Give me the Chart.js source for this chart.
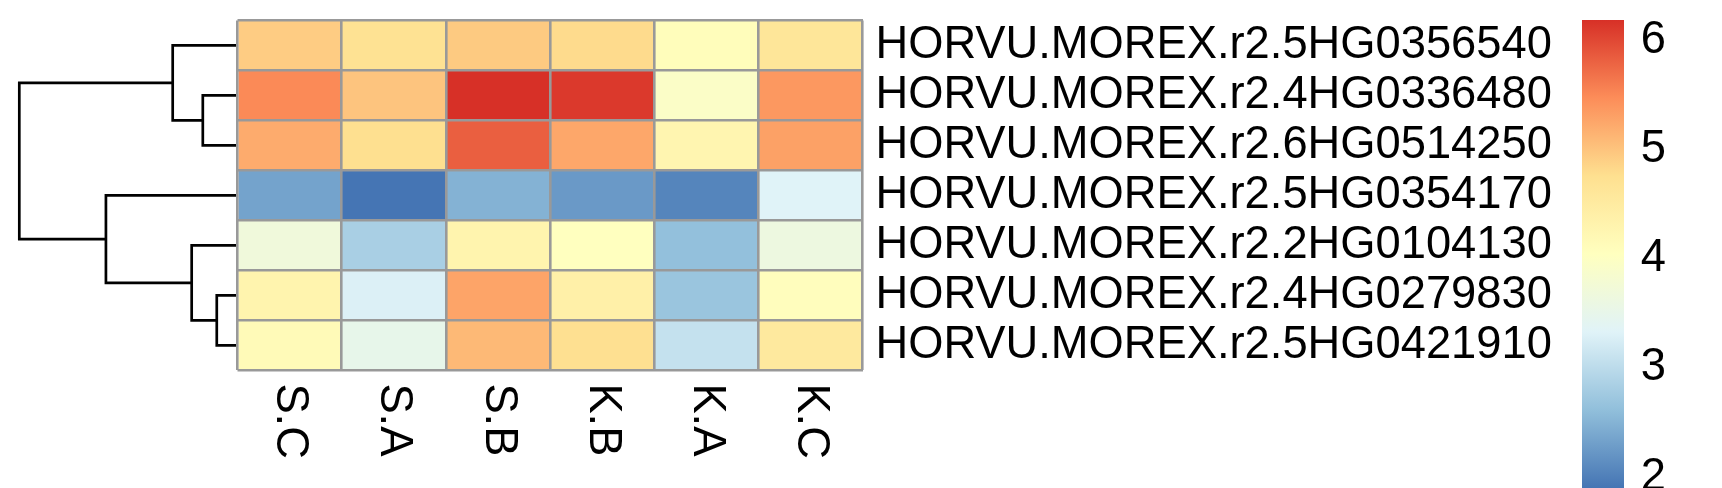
<!DOCTYPE html>
<html><head><meta charset="utf-8">
<script src="https://cdn.jsdelivr.net/npm/chart.js@4.4.1/dist/chart.umd.min.js"></script>
<style>
html,body{margin:0;padding:0;background:#fff;width:1722px;height:488px;overflow:hidden;}
canvas{position:absolute;top:0;}
</style></head><body>
<canvas id="dend" width="240" height="488" style="left:0"></canvas>
<canvas id="heat" width="1722" height="488" style="left:0"></canvas>
<canvas id="cbar" width="140" height="488" style="left:1582px"></canvas>
<script>
// ---------- data ----------
const rowLabels = [
  'HORVU.MOREX.r2.5HG0356540',
  'HORVU.MOREX.r2.4HG0336480',
  'HORVU.MOREX.r2.6HG0514250',
  'HORVU.MOREX.r2.5HG0354170',
  'HORVU.MOREX.r2.2HG0104130',
  'HORVU.MOREX.r2.4HG0279830',
  'HORVU.MOREX.r2.5HG0421910'
];
const colLabels = ['S.C', 'S.A', 'S.B', 'K.B', 'K.A', 'K.C'];
// values per column, in row order above
const valSC = [4.93, 5.50, 5.22, 2.34, 3.70, 4.30, 4.15];
const valSA = [4.72, 5.00, 4.76, 1.90, 2.83, 3.29, 3.50];
const valSB = [4.95, 6.19, 5.83, 2.49, 4.30, 5.28, 5.10];
const valKB = [4.80, 6.12, 5.25, 2.25, 4.05, 4.40, 4.75];
const valKA = [4.10, 3.95, 4.28, 2.05, 2.63, 2.70, 3.08];
const valKC = [4.62, 5.38, 5.30, 3.33, 3.63, 4.08, 4.55];
// row dendrogram (hclust style merges: negative = leaf position, positive = earlier merge)
const mergePairs = [[-6, -7], [-2, -3], [-5, 1], [-1, 2], [-4, 3], [4, 5]];
const mergeHeights = [0.095, 0.159, 0.210, 0.297, 0.603, 1.000];
// colour legend
const paletteColors = ['#4575B4', '#91BFDB', '#E0F3F8', '#FFFFBF', '#FEE090', '#FC8D59', '#D73027'];
const legendTicks = [2, 3, 4, 5, 6];

// ---------- helpers ----------
const colValues = [valSC, valSA, valSB, valKB, valKA, valKC];
const allVals = colValues.flat();
const vMin = Math.min(...allVals), vMax = Math.max(...allVals);
const FAMILY = "'Liberation Sans', Arial, Helvetica, sans-serif";
const FONT = {family: FAMILY, size: 45.3};

function hexToRgb(h) { return [1, 3, 5].map(i => parseInt(h.substr(i, 2), 16)); }
const palRgb = paletteColors.map(hexToRgb);
function rampColor(v) {
  let t = (v - vMin) / (vMax - vMin);
  t = Math.max(0, Math.min(1, t)) * (palRgb.length - 1);
  const i = Math.min(Math.floor(t), palRgb.length - 2);
  const f = t - i;
  const c = palRgb[i].map((a, k) => Math.round(a + (palRgb[i + 1][k] - a) * f));
  return `rgb(${c[0]},${c[1]},${c[2]})`;
}
function noPad(s) { s.paddingTop = 0; s.paddingBottom = 0; s.paddingLeft = 0; s.paddingRight = 0; }

Chart.defaults.font.family = FAMILY;

// ---------- dendrogram ----------
function buildDendro() {
  const nodes = [], segs = [];
  mergePairs.forEach((pair, k) => {
    const pts = pair.map(p => p < 0 ? {x: 0, y: -p - 0.5} : nodes[p - 1]);
    const h = mergeHeights[k];
    nodes.push({x: h, y: (pts[0].y + pts[1].y) / 2});
    segs.push([
      {x: pts[0].x, y: pts[0].y}, {x: h, y: pts[0].y},
      {x: h, y: pts[1].y}, {x: pts[1].x, y: pts[1].y}
    ]);
  });
  return segs;
}
new Chart(document.getElementById('dend'), {
  type: 'scatter',
  data: {
    datasets: buildDendro().map(seg => ({
      data: seg, showLine: true, pointRadius: 0, borderColor: '#000000',
      borderWidth: 2.7, tension: 0, clip: false, borderJoinStyle: 'miter'
    }))
  },
  options: {
    responsive: false, animation: false, devicePixelRatio: 1,
    layout: {padding: {left: 19.3, right: 2.5, top: 20.4, bottom: 117.6}},
    plugins: {legend: {display: false}, tooltip: {enabled: false}},
    scales: {
      x: {type: 'linear', display: false, min: 0, max: Math.max(...mergeHeights), reverse: true},
      y: {type: 'linear', display: false, min: 0, max: rowLabels.length, reverse: true}
    }
  }
});

// ---------- heatmap ----------
const colLabelPlugin = {
  id: 'colLabels',
  afterDraw(chart) {
    const {ctx, chartArea} = chart;
    const xs = chart.scales.x;
    ctx.save();
    ctx.font = `${FONT.size}px ${FAMILY}`;
    ctx.fillStyle = '#000000';
    ctx.textAlign = 'left';
    ctx.textBaseline = 'middle';
    colLabels.forEach((lab, i) => {
      const px = xs.getPixelForValue(i + 0.5);
      ctx.save();
      ctx.translate(px, chartArea.bottom + 13);
      ctx.rotate(Math.PI / 2);
      ctx.fillText(lab, 0, 0);
      ctx.restore();
    });
    ctx.restore();
  }
};
new Chart(document.getElementById('heat'), {
  type: 'bar',
  data: {
    labels: rowLabels,
    datasets: colLabels.map((name, c) => ({
      label: name,
      data: rowLabels.map(() => [c, c + 1]),
      backgroundColor: colValues[c].map(v => rampColor(v)),
      borderWidth: 0, barPercentage: 1, categoryPercentage: 1, grouped: false
    }))
  },
  options: {
    indexAxis: 'y', responsive: false, animation: false, devicePixelRatio: 1,
    layout: {padding: {left: 237.5, top: 20.4, bottom: 117.6, right: 0}},
    plugins: {legend: {display: false}, tooltip: {enabled: false}},
    scales: {
      x: {
        type: 'linear', min: 0, max: colLabels.length, position: 'bottom',
        ticks: {display: false, stepSize: 1},
        grid: {color: '#999999', lineWidth: 2.6, drawTicks: false, z: 1},
        border: {display: false},
        afterFit: s => { s.height = 0; noPad(s); }
      },
      y: {
        type: 'category', position: 'right', offset: true,
        grid: {offset: true, color: '#999999', lineWidth: 2.6, drawTicks: false, z: 1},
        border: {display: false},
        ticks: {autoSkip: false, color: '#000000', padding: 12.8, font: FONT},
        afterFit: s => { s.width = 1722 - 862.7; noPad(s); }
      }
    }
  },
  plugins: [colLabelPlugin]
});

// ---------- colour legend ----------
new Chart(document.getElementById('cbar'), {
  type: 'bar',
  data: {
    labels: [''],
    datasets: [{
      data: [[vMin, vMax]],
      backgroundColor: (ctx) => {
        const chart = ctx.chart, ys = chart.scales.y;
        if (!chart.chartArea || !ys) return paletteColors[3];
        const g = chart.ctx.createLinearGradient(0, ys.getPixelForValue(vMin), 0, ys.getPixelForValue(vMax));
        paletteColors.forEach((c, i) => g.addColorStop(i / (paletteColors.length - 1), c));
        return g;
      },
      borderWidth: 0, barPercentage: 1, categoryPercentage: 1
    }]
  },
  options: {
    responsive: false, animation: false, devicePixelRatio: 1,
    layout: {padding: {top: 20, bottom: 0, left: 0, right: 0}},
    plugins: {legend: {display: false}, tooltip: {enabled: false}},
    scales: {
      x: {display: false},
      y: {
        type: 'linear', position: 'right', min: vMin, max: vMax,
        afterBuildTicks: s => { s.ticks = legendTicks.map(v => ({value: v})); },
        ticks: {autoSkip: false, padding: 16.8, font: FONT, color: '#000000'},
        grid: {display: false, drawTicks: false},
        border: {display: false},
        afterFit: s => { s.width = 98; noPad(s); }
      }
    }
  }
});
</script>
</body></html>
